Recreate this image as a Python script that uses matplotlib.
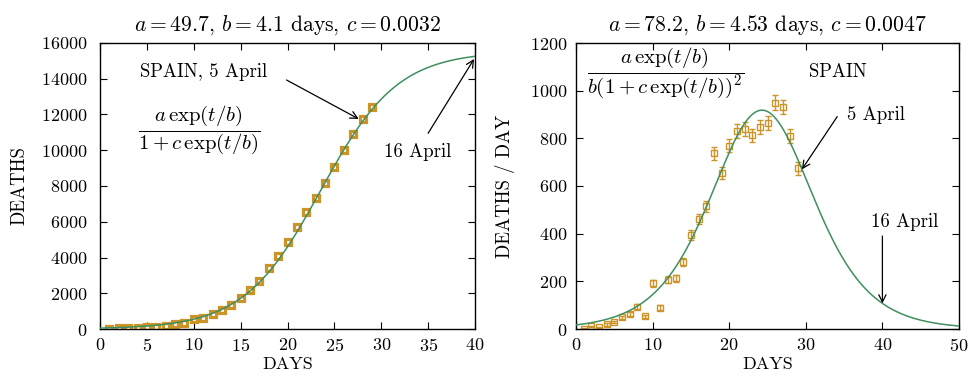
import matplotlib
matplotlib.use('Agg')
import matplotlib.pyplot as plt
import numpy as np

plt.rcParams['font.family'] = 'serif'
plt.rcParams['font.serif'] = ['cmr10']
plt.rcParams['mathtext.fontset'] = 'cm'
plt.rcParams['axes.formatter.use_mathtext'] = True
plt.rcParams['font.size'] = 13

# data: Spain, day 1 = 8 March
days = list(range(1, 30))
deaths_total = [17, 28, 35, 54, 84, 133, 195, 289, 342, 533, 623, 830, 1043,
                1326, 1720, 2182, 2696, 3434, 4089, 4858, 5690, 6528, 7340,
                8189, 9053, 10003, 10935, 11744, 12418]
deaths_daily = [2, 11, 7, 19, 30, 49, 62, 94, 53, 191, 90, 207, 213,
                283, 394, 462, 514, 738, 655, 769, 832, 838, 812,
                849, 864, 950, 932, 809, 674]

# fit parameters (from the titles)
a1, b1, c1 = 49.7, 4.1, 0.0032
a2, b2, c2 = 78.2, 4.53, 0.0047

marker_col = '#cc9428'
line_col = '#3f8f5f'
arrow = dict(arrowstyle='->', color='black', lw=0.9, shrinkA=0, shrinkB=0)
note_fs = 13.5


def cumulative(t, a, b, c):
    e = np.exp(t / b)
    return a * e / (1 + c * e)


def daily(t, a, b, c):
    e = np.exp(t / b)
    return a * e / (b * (1 + c * e) ** 2)


fig = plt.figure(figsize=(9.71, 3.84), dpi=100)
ax1 = fig.add_axes([100 / 971, 1 - 329 / 384, 375 / 971, 286 / 384])
ax2 = fig.add_axes([576 / 971, 1 - 329 / 384, 383 / 971, 286 / 384])

# left panel
t1 = np.linspace(0, 40, 400)
ax1.plot(t1, cumulative(t1, a1, b1, c1), color=line_col, lw=1.1, zorder=3)
ax1.errorbar(days, deaths_total, yerr=np.sqrt(deaths_total), fmt='s',
             ms=4.8, mfc='white', mec=marker_col, mew=2.3, ecolor=marker_col,
             elinewidth=1, capsize=0, zorder=2)
ax1.set_xlim(0, 40)
ax1.set_ylim(0, 16000)
ax1.set_xticks(range(0, 41, 5))
ax1.set_yticks(range(0, 16001, 2000))
ax1.set_xlabel('DAYS', labelpad=2)
ax1.set_ylabel('DEATHS', labelpad=9, fontsize=13.5)
ax1.set_title(r'$a=49.7$, $b=4.1$ days, $c=0.0032$', pad=9)
ax1.text(10.6, 11130, r'$\dfrac{a\,\exp(t/b)}{1+c\,\exp(t/b)}$', fontsize=15,
         ha='center', va='center')
ax1.text(11.0, 14400, 'SPAIN, 5 April', ha='center', va='center', fontsize=note_fs)
ax1.annotate('', xy=(27.6, 11750), xytext=(19.9, 13930), arrowprops=arrow)
ax1.text(33.9, 9900, '16 April', ha='center', va='center', fontsize=note_fs)
ax1.annotate('', xy=(39.9, cumulative(40, a1, b1, c1) - 150), xytext=(35.0, 10950),
             arrowprops=arrow)

# right panel
t2 = np.linspace(0, 50, 500)
ax2.plot(t2, daily(t2, a2, b2, c2), color=line_col, lw=1.1, zorder=3)
ax2.errorbar(days, deaths_daily, yerr=np.sqrt(deaths_daily), fmt='s',
             ms=5, mfc='none', mec=marker_col, mew=1, ecolor=marker_col,
             elinewidth=1, capsize=2.5, zorder=2)
ax2.set_xlim(0, 50)
ax2.set_ylim(0, 1200)
ax2.set_xticks(range(0, 51, 10))
ax2.set_yticks(range(0, 1201, 200))
ax2.set_xlabel('DAYS', labelpad=2)
ax2.set_ylabel('DEATHS / DAY', labelpad=11, fontsize=13.5)
ax2.set_title(r'$a=78.2$, $b=4.53$ days, $c=0.0047$', pad=9)
ax2.text(11.7, 1074, r'$\dfrac{a\,\exp(t/b)}{b(1+c\,\exp(t/b))^2}$', fontsize=15,
         ha='center', va='center')
ax2.text(34.2, 1078, 'SPAIN', ha='center', va='center', fontsize=note_fs)
ax2.text(39.2, 900, '5 April', ha='center', va='center', fontsize=note_fs)
ax2.annotate('', xy=(29.5, 670), xytext=(34.1, 891), arrowprops=arrow)
ax2.text(42.9, 450, '16 April', ha='center', va='center', fontsize=note_fs)
ax2.annotate('', xy=(40, daily(40, a2, b2, c2)), xytext=(40, 390), arrowprops=arrow)

ax1.tick_params(axis='y', pad=9)
ax2.tick_params(axis='y', pad=6)
for ax in (ax1, ax2):
    ax.tick_params(direction='in', top=True, right=True, length=5, width=0.8)
    ax.tick_params(axis='x', pad=6)
    for s in ax.spines.values():
        s.set_linewidth(1.0)

fig.savefig('out.png', dpi=100)
